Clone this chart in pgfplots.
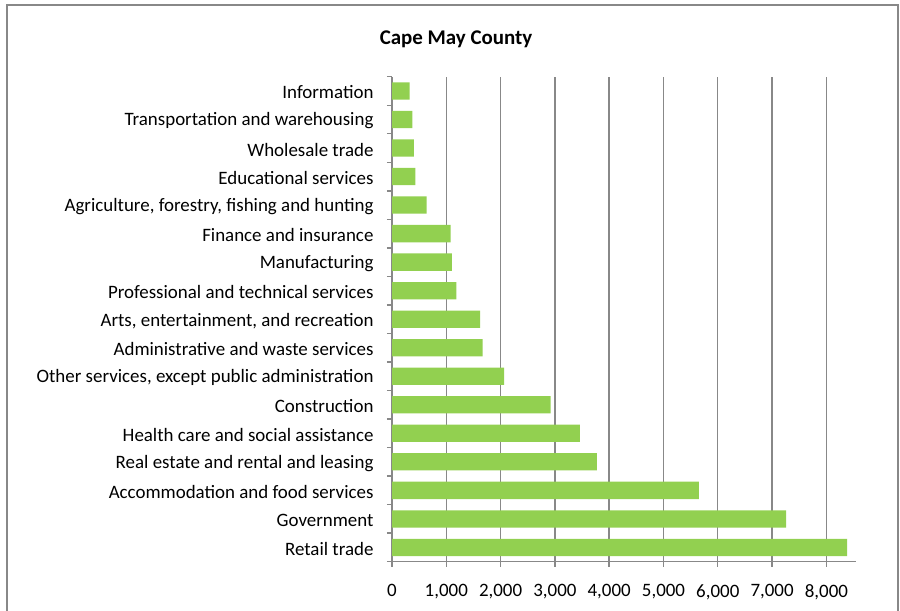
\documentclass[border=0pt]{standalone}
\usepackage{fontspec}
\setmainfont{Carlito}
\usepackage{pgfplots}
\pgfplotsset{compat=1.18}
\definecolor{bargreen}{HTML}{92D050}
\definecolor{axgray}{HTML}{888888}
\begin{document}
\begin{tikzpicture}
\path[use as bounding box] (0bp,0bp) rectangle (900bp,611bp);
\draw[axgray, line width=1.2bp] (7bp,-2bp) -- (7bp,606bp) -- (898bp,606bp) -- (898bp,-2bp);
\node[font=\bfseries\fontsize{21}{24}\selectfont] at (456bp,572bp) {Cape May County};
\begin{axis}[
  at={(392bp,49.3bp)}, anchor=south west, scale only axis,
  width=463.7bp, height=485bp,
  xmin=0, xmax=8540, ymin=-0.5, ymax=16.5,
  xbar, bar width=17.3bp,
  axis x line*=bottom, axis y line*=left,
  axis line style={axgray, line width=1.4bp},
  xtick={0,1000,...,8000},
  ytick={0,...,16},
  minor ytick={-0.5,0.5,...,16.5},
  tick align=outside,
  major tick length=5bp, minor tick length=5bp,
  major y tick style={draw=none},
  every tick/.style={axgray, line width=1.4bp},
  minor y tick style={axgray, line width=1.4bp},
  major x tick style={axgray, line width=1.4bp},
  xmajorgrids, grid style={axgray, line width=1.4bp},
  /pgf/number format/.cd, 1000 sep={,}, assume math mode=true, /pgfplots/.cd,
  scaled x ticks=false,
  tick label style={font=\fontsize{19}{22}\selectfont, text=black},
  xticklabel style={yshift=-14bp},
  yticklabel style={xshift=-10bp, yshift=-1.5bp},
  yticklabels={Retail trade, Government, Accommodation and food services, Real estate and rental and leasing, Health care and social assistance, Construction, {Other services, except public administration}, Administrative and waste services, {Arts, entertainment, and recreation}, Professional and technical services, Manufacturing, Finance and insurance, {Agriculture, forestry, fishing and hunting}, Educational services, Wholesale trade, Transportation and warehousing, Information},
]
\addplot[fill=bargreen, draw=none] coordinates {
 (8380,0) (7260,1) (5650,2) (3775,3) (3462,4) (2922,5) (2063,6) (1670,7) (1621,8)
 (1185,9) (1105,10) (1081,11) (638,12) (430,13) (405,14) (374,15) (326,16)
};
\end{axis}
\end{tikzpicture}
\end{document}
